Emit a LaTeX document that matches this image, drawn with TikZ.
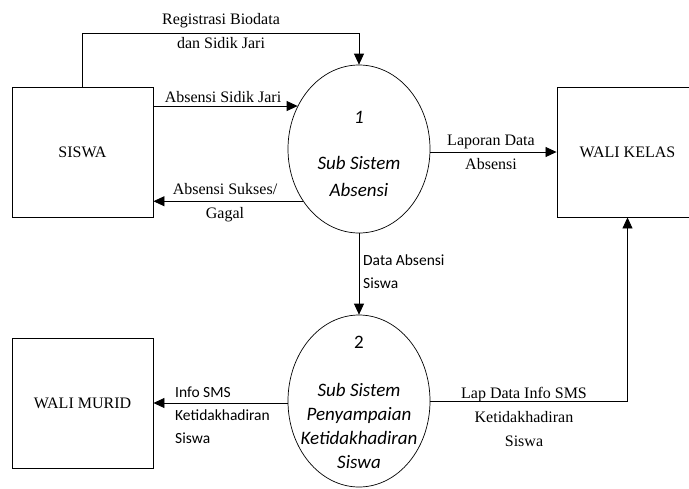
\documentclass[tikz,border=0pt]{standalone}
\usepackage{fontspec}
\setmainfont{Liberation Serif}
\newfontfamily\calibri{Carlito}
\usetikzlibrary{shapes.geometric,arrows.meta}
\newcommand{\lbl}{\fontsize{16}{24}\selectfont}
\newcommand{\slbl}{\calibri\fontsize{15.5}{23}\selectfont}
\newcommand{\ptxt}{\calibri\fontsize{19}{24}\selectfont}
\tikzset{
  entity/.style={draw, line width=0.9pt, minimum width=141pt, minimum height=130pt, inner sep=0pt, font=\lbl},
  proc/.style={draw, ellipse, line width=0.7pt, minimum width=142pt, inner sep=0pt},
  flow/.style={line width=0.8pt, -{Triangle[length=11pt,width=10pt]}},
  txt/.style={inner sep=0pt, align=center},
}

\begin{document}
\begin{tikzpicture}[x=1pt,y=-1pt]
\clip (0,0) rectangle (689,488);
\node[entity] (siswa) at (82.5,152) {SISWA};
\node[entity] (murid) at (82.5,403) {WALI MURID};
\node[entity] (kelas) at (627.5,152) {WALI KELAS};
\node[proc, minimum height=168pt] (p1) at (359,149) {};
\node[proc, minimum height=172pt] (p2) at (359,401) {};
\node[txt, font=\ptxt\itshape] (p1num) at (359,117) {1};
\node[txt, font=\ptxt\itshape, text depth=0pt] (p1txt) at (359,176.5) {Sub Sistem\\[3pt]Absensi};
\node[txt, font=\ptxt] (p2num) at (359,342) {2};
\node[txt, font=\ptxt\itshape] (p2txt) at (359,426) {Sub Sistem\\Penyampaian\\Ketidakhadiran\\Siswa};
\coordinate (regtop) at (359,33);
\draw[flow] (siswa.north) |- (regtop) -- (p1.north);
\draw[flow] (siswa.east |- p1.145.7) -- (p1.145.7);
\draw[flow] (p1.223) -- (siswa.east |- p1.223);
\draw[flow] (kelas.west -| p1.east) -- (kelas.west);
\draw[flow] (p1.south) -- (p2.north);
\draw[flow] (murid.east -| p2.west) -- (murid.east);
\draw[flow] (p2.east) -| (kelas.south);
\node[txt, font=\lbl] (reglbl) at (221,31) {Registrasi Biodata\\dan Sidik Jari};
\node[txt, font=\lbl] (sidiklbl) at (223,97) {Absensi Sidik Jari};
\node[txt, font=\lbl] (sukseslbl) at (225,203) {Absensi Sukses/\\Gagal};
\node[txt, font=\lbl] (laplbl) at (491,152.5) {Laporan Data\\Absensi};
\node[txt, font=\slbl, align=left, anchor=west] (datalbl) at (363,272) {Data Absensi\\Siswa};
\node[txt, font=\slbl, align=left, anchor=west] (infolbl) at (175,415) {Info SMS\\Ketidakhadiran\\Siswa};
\node[txt, font=\lbl] (smslbl) at (524,417) {Lap Data Info SMS\\Ketidakhadiran\\Siswa};
\end{tikzpicture}
\end{document}
